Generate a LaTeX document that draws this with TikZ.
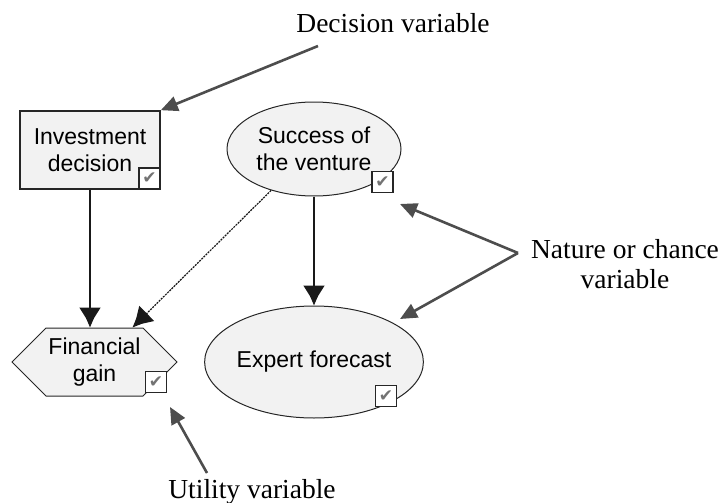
\documentclass[tikz,border=0pt]{standalone}
\usepackage{fontspec}
\setmainfont{Liberation Serif}
\setsansfont{Liberation Sans}
\newfontfamily\tickfont{DejaVu Sans}
\usetikzlibrary{arrows.meta,positioning,calc,shapes.geometric,shapes.symbols}

\definecolor{nodefill}{HTML}{F2F2F2}
\definecolor{pointgray}{HTML}{4D4D4D}

\tikzset{
  varnode/.style={draw=black!85, line width=1pt, fill=nodefill, align=center,
    inner sep=0pt, font=\sffamily\fontsize{23}{27}\selectfont},
  tickbox/.style={draw=black!85, line width=1.4pt, fill=white, minimum size=21pt,
    inner sep=0pt, text=black!55, font=\tickfont\fontsize{17}{17}\selectfont},
  link/.style={line width=1.4pt, draw=black!90,
    -{Triangle[length=17pt,width=21pt,sep=-7pt]Triangle[length=10pt,width=8pt]}},
  note/.style={font=\fontsize{27.5}{30}\selectfont, align=center},
  pointer/.style={draw=pointgray, line width=2.6pt, -{Triangle[length=17pt,width=15pt]}}
}

\begin{document}
\begin{tikzpicture}[x=1pt,y=-1pt]
    \useasboundingbox (0,0) rectangle (723,503);

    % variables of the model
    \node[varnode, line width=1.6pt, minimum width=140pt, minimum height=78pt] (inv) at (90,150) {Investment\\decision};
    \node[varnode, ellipse, minimum width=174pt, minimum height=94pt] (succ) at (314,149) {Success of\\the venture};
    \node[varnode, ellipse, minimum width=178pt, minimum height=112pt] (expt) at (314,362) {Expert forecast};
    \node[varnode, signal, signal to=west and east, signal pointer angle=90,
      minimum width=165pt, minimum height=68pt] (fin) at (94.5,362) {Financial\\gain};

    % tick boxes
    \node[tickbox, anchor=south east] (invtick) at (inv.south east) {✔};
    \node[tickbox] (succtick) at (382.5,182) {✔};
    \node[tickbox] (expttick) at (386,396) {✔};
    \node[tickbox] (fintick) at (156,382) {✔};

    % links
    \draw[link] (inv.south) -- (inv.south |- fin.north);
    \draw[link] (succ.south) -- (expt.north);
    \draw[link, line width=1.2pt, dash pattern=on 2pt off 1pt] (succ.224) -- ([xshift=38pt]fin.north);

    % annotations
    \node[note, anchor=base] (declabel) at (393,33) {Decision variable};
    \node[note, anchor=base] (natlabel) at (625,288) {Nature or chance\\variable};
    \node[note, anchor=base] (utillabel) at (252,498) {Utility variable};

    \coordinate (decltail) at (318,46);
    \coordinate (nattail) at (518,253);
    \coordinate (succtip) at (400,204);
    \coordinate (expttip) at (400,319);
    \coordinate (utiltail) at (207,473);
    \coordinate (utiltip) at (170,407);

    \draw[pointer] (decltail) -- (inv.north east);
    \draw[pointer] (nattail) -- (succtip);
    \draw[pointer] (nattail) -- (expttip);
    \draw[pointer] (utiltail) -- (utiltip);
\end{tikzpicture}
\end{document}
